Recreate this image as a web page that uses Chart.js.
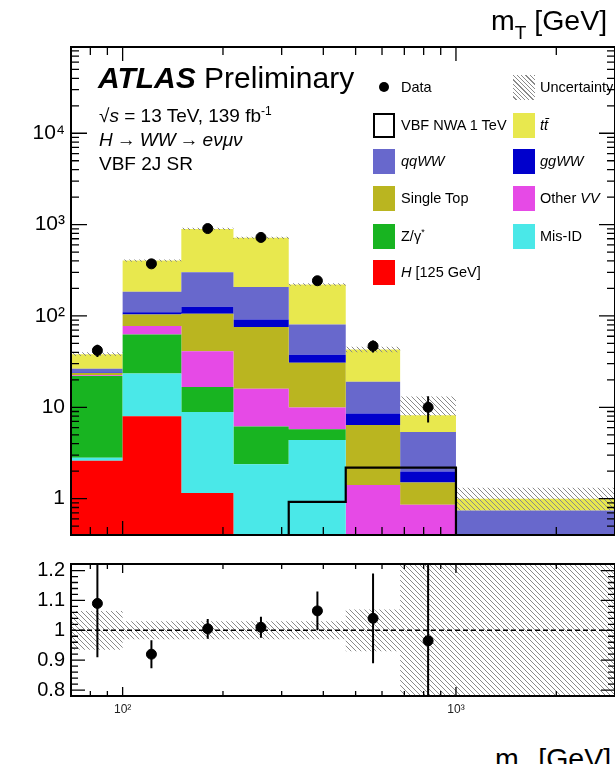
<!DOCTYPE html>
<html><head><meta charset="utf-8">
<script src="https://cdn.jsdelivr.net/npm/chart.js@4.4.1/dist/chart.umd.min.js"></script>
<style>
html,body{margin:0;padding:0;overflow:hidden;background:#fff;width:615px;height:764px;}
body{position:relative;font-family:"Liberation Sans",Arial,Helvetica,sans-serif;color:#000;}
canvas{position:absolute;left:0;}
.t{position:absolute;white-space:nowrap;line-height:1;}
.sw{position:absolute;width:22px;height:25px;}
.lt{position:absolute;font-size:14.5px;white-space:nowrap;line-height:1;}
sub,sup{line-height:0;}
.ar{margin:0 4px;}
</style></head><body>
<canvas id="c1" width="621" height="560" style="top:0"></canvas>
<canvas id="c2" width="621" height="200" style="top:540px"></canvas>

<div class="t" style="left:491px;top:6px;font-size:28.5px">m<sub style="font-size:19px;position:relative;top:2px">T</sub> [GeV]</div>
<div class="t" style="left:495px;top:744px;font-size:28.5px">m<sub style="font-size:19px;position:relative;top:2px">T</sub> [GeV]</div>

<div class="t" style="left:98px;top:63px;font-size:30px"><b><i>ATLAS</i></b> Preliminary</div>
<div class="t" style="left:99px;top:106px;font-size:19px">√<i>s</i> = 13 TeV, 139 fb<sup style="font-size:12px">-1</sup></div>
<div class="t" style="left:99px;top:130px;font-size:19px"><i>H</i><span class="ar">→</span><i>WW</i><span class="ar">→</span><i>eνμν</i></div>
<div class="t" style="left:99px;top:154px;font-size:19px">VBF 2J SR</div>

<div id="legend"></div>

<script>
// ---------------- data ----------------
const binEdges   = [70, 100, 150, 215, 315, 467, 680, 1000, 3000];   // mT bin edges [GeV]
const dataX      = [84, 122, 180, 260, 384, 564, 825];                // data points (bin centres) [GeV]
const higgs125   = [2.6, 8.0, 1.15, 0, 0, 0, 0, 0];
const misID      = [0.2, 15.4, 7.75, 2.38, 4.39, 0, 0, 0];
const zGamma     = [19.2, 39.4, 7.8, 3.77, 1.36, 0, 0, 0];
const otherVV    = [0.5, 14.6, 24.5, 9.85, 4.18, 1.41, 0.855, 0];
const singleTop  = [1.2, 26.6, 64.8, 59.5, 20.9, 5.0, 0.645, 0];
const ggWW       = [0.3, 6.0, 20, 16.1, 6.9, 2.12, 0.48, 0];
const qqWW       = [2.5, 74, 175, 116.4, 43, 10.57, 3.39, 0.74];
const ttbar      = [11.5, 220, 597, 508, 140, 23.9, 2.83, 0.26];
const vbfNWA1TeV = [0, 0, 0, 0, 0.92, 2.19, 2.19, 0];
const dataVals   = [42, 372, 905, 724, 243, 46.8, 10.0];
const dataErr    = [6.5, 19, 30, 27, 16, 7, 3.2];
const uncLow     = [36.5, 392, 875, 696, 214, 40, 8.1, 0.74];
const uncHigh    = [40, 416, 925, 738, 228, 46, 13.1, 1.32];
const ratioVals  = [1.09, 0.92, 1.005, 1.01, 1.065, 1.04, 0.965];
const ratioErr   = [0.18, 0.047, 0.033, 0.035, 0.065, 0.15, 0.6];
const ratioUncLo = [0.935, 0.97, 0.97, 0.97, 0.97, 0.93, 0.5, 0.5];
const ratioUncHi = [1.065, 1.03, 1.03, 1.03, 1.03, 1.07, 1.5, 1.5];
const yMainTicks = [1, 10, 100, 1000, 10000];
const yMainLabels = ['1', '10', '10²', '10³', '10⁴'];
const yRatioTicks = [0.8, 0.9, 1, 1.1, 1.2];
const yRatioLabels = ['0.8', '0.9', '1', '1.1', '1.2'];
const xRatioTicks = [100, 1000];
const xRatioLabels = ['10²', '10³'];

const components = [
  {label:'H [125 GeV]', vals:higgs125,  color:'#ff0000'},
  {label:'Mis-ID',      vals:misID,     color:'#4ae8e8'},
  {label:'Z/γ*',        vals:zGamma,    color:'#18b421'},
  {label:'Other VV',    vals:otherVV,   color:'#e64ae6'},
  {label:'Single Top',  vals:singleTop, color:'#bab520'},
  {label:'ggWW',        vals:ggWW,      color:'#0000cc'},
  {label:'qqWW',        vals:qqWW,      color:'#6868cc'},
  {label:'tt̄',          vals:ttbar,     color:'#e8e84e'}
];

// --------------- helpers ---------------
const FONT = '"Liberation Sans", Arial, Helvetica, sans-serif';
const LOG_FLOOR = 0.2; // below the axis minimum: an empty bin is drawn under the frame (log axes cannot show 0)
function stepPts(vals, floor){
  const f = v => (floor !== undefined ? Math.max(v, floor) : v);
  const p = vals.map((v,i)=>({x:binEdges[i], y:f(v)}));
  p.push({x:binEdges[binEdges.length-1], y:f(vals[vals.length-1])});
  return p;
}
function hatch(ctx){
  const c=document.createElement('canvas'); c.width=c.height=5;
  const g=c.getContext('2d'); g.strokeStyle='#8a8a8a'; g.lineWidth=1;
  for(const o of [-5,0,5]){ g.beginPath(); g.moveTo(o,0); g.lineTo(o+5,5); g.stroke(); }
  return ctx.createPattern(c,'repeat');
}
function frameTicks(o){
  return {id:'frame'+o.name, afterDatasetsDraw(chart){
    const {ctx, chartArea:a, scales:{x,y}} = chart;
    ctx.save(); ctx.strokeStyle='#000'; ctx.lineWidth=1.3; ctx.beginPath();
    const xt=(vals,len)=>{for(const v of vals){const p=x.getPixelForValue(v); if(p<=a.left+1||p>=a.right-1)continue;
      ctx.moveTo(p,a.bottom); ctx.lineTo(p,a.bottom-len); ctx.moveTo(p,a.top); ctx.lineTo(p,a.top+len);} };
    const yt=(vals,len)=>{for(const v of vals){const p=y.getPixelForValue(v); if(p<=a.top+1||p>=a.bottom-1)continue;
      ctx.moveTo(a.left,p); ctx.lineTo(a.left+len,p); ctx.moveTo(a.right,p); ctx.lineTo(a.right-len,p);} };
    xt(o.xMajor,o.xMajLen); xt(o.xMinor,o.xMinLen); yt(o.yMajor,o.yMajLen); yt(o.yMinor,o.yMinLen);
    ctx.stroke();
    if(o.dashed){ ctx.beginPath(); ctx.setLineDash([5,3]); ctx.lineWidth=1.6;
      const p=y.getPixelForValue(o.dashed); ctx.moveTo(a.left,p); ctx.lineTo(a.right,p); ctx.stroke(); ctx.setLineDash([]); }
    ctx.lineWidth=2; ctx.strokeRect(a.left,a.top,a.right-a.left,a.bottom-a.top);
    ctx.restore();
  }};
}
function errBars(name, xs, ys, errs){
  return {id:'err'+name, afterDatasetsDraw(chart){
    const {ctx, chartArea:a, scales:{x,y}} = chart;
    ctx.save(); ctx.beginPath(); ctx.rect(a.left,a.top,a.right-a.left,a.bottom-a.top); ctx.clip();
    ctx.strokeStyle='#000'; ctx.lineWidth=2; ctx.beginPath();
    xs.forEach((xv,i)=>{const px=x.getPixelForValue(xv);
      ctx.moveTo(px,y.getPixelForValue(ys[i]+errs[i])); ctx.lineTo(px,y.getPixelForValue(Math.max(ys[i]-errs[i],1e-6)));});
    ctx.stroke(); ctx.restore();
  }};
}

// minor tick positions
const xMinor=[80,90,200,300,400,500,600,700,800,900,2000];
const yMinorMain=[]; for(let d=0.1; d<1e5; d*=10){ for(let k=2;k<=9;k++) yMinorMain.push(+(k*d).toPrecision(3)); }
const yMinorRatio=[]; for(let k=40;k<=61;k++){ const v=k*0.02; if(Math.abs(v*10-Math.round(v*10))>1e-6) yMinorRatio.push(v); }

// --------------- main panel ---------------
const ctx1=document.getElementById('c1').getContext('2d');
const pat1=hatch(ctx1);
let cum=new Array(8).fill(0);
const mainSets=components.map((c,i)=>{
  cum=cum.map((s,j)=>s+c.vals[j]);
  return {type:'line', label:c.label, data:stepPts(cum.slice(), LOG_FLOOR), stepped:true, borderWidth:0, pointRadius:0,
    backgroundColor:c.color, borderColor:c.color, fill: i===0?'start':'-1', order:10};
});
const nS=mainSets.length;
mainSets.push({type:'line', label:'uncLo', data:stepPts(uncLow, LOG_FLOOR), stepped:true, borderWidth:0, pointRadius:0, fill:false, order:3, borderColor:'rgba(0,0,0,0)'});
mainSets.push({type:'line', label:'Uncertainty', data:stepPts(uncHigh, LOG_FLOOR), stepped:true, borderWidth:0, pointRadius:0, fill:{target:nS}, backgroundColor:pat1, order:2, borderColor:'rgba(0,0,0,0)'});
mainSets.push({type:'line', label:'VBF NWA 1 TeV', data:stepPts(vbfNWA1TeV, LOG_FLOOR), stepped:true, borderWidth:2.2, borderColor:'#000', pointRadius:0, fill:false, order:1});
mainSets.push({type:'line', label:'Data', data:dataX.map((x,i)=>({x,y:dataVals[i]})), showLine:false, pointRadius:5, pointBackgroundColor:'#000', pointBorderColor:'#000', order:0});

new Chart(ctx1,{
  type:'line',
  data:{datasets:mainSets},
  options:{
    responsive:false, animation:false, events:[],
    layout:{padding:{top:47,left:0,right:1,bottom:25}},
    plugins:{legend:{display:false}, tooltip:{enabled:false}},
    scales:{
      x:{type:'logarithmic', min:binEdges[0], max:binEdges[binEdges.length-1], display:false},
      y:{type:'logarithmic', min:0.4, max:88000,
         afterFit:s=>{s.width=71;},
         afterBuildTicks:s=>{s.ticks=yMainTicks.map(v=>({value:v}));},
         grid:{display:false, drawTicks:false, tickLength:0}, border:{display:false},
         ticks:{padding:6, color:'#000', font:{family:FONT,size:21}, autoSkip:false,
           callback:(v)=>{const i=yMainTicks.indexOf(v); return i>=0?yMainLabels[i]:'';}}}
    }
  },
  plugins:[frameTicks({name:'m', xMajor:[100,1000], xMinor, xMajLen:14, xMinLen:8, yMajor:yMainTicks, yMinor:yMinorMain, yMajLen:16, yMinLen:8}),
           errBars('m', dataX, dataVals, dataErr)]
});

// --------------- ratio panel ---------------
const ctx2=document.getElementById('c2').getContext('2d');
const pat2=hatch(ctx2);
new Chart(ctx2,{
  type:'line',
  data:{datasets:[
    {label:'lo', data:stepPts(ratioUncLo), stepped:true, borderWidth:0, pointRadius:0, fill:false, borderColor:'rgba(0,0,0,0)', order:3},
    {label:'band', data:stepPts(ratioUncHi), stepped:true, borderWidth:0, pointRadius:0, fill:{target:0}, backgroundColor:pat2, borderColor:'rgba(0,0,0,0)', order:2},
    {label:'Data/Bkg', data:dataX.map((x,i)=>({x,y:ratioVals[i]})), showLine:false, pointRadius:5, pointBackgroundColor:'#000', pointBorderColor:'#000', order:0}
  ]},
  options:{
    responsive:false, animation:false, events:[],
    layout:{padding:{top:24,left:0,right:1,bottom:0}},
    plugins:{legend:{display:false}, tooltip:{enabled:false}},
    scales:{
      x:{type:'logarithmic', min:binEdges[0], max:binEdges[binEdges.length-1],
         afterFit:s=>{s.height=44;},
         afterBuildTicks:s=>{s.ticks=xRatioTicks.map(v=>({value:v}));},
         grid:{display:false, drawTicks:false, tickLength:0}, border:{display:false},
         ticks:{padding:6, color:'#222', maxRotation:0, autoSkip:false, font:{family:FONT,size:12},
           callback:(v)=>{const i=xRatioTicks.indexOf(v); return i>=0?xRatioLabels[i]:'';}}},
      y:{type:'linear', min:0.78, max:1.222,
         afterFit:s=>{s.width=71;},
         afterBuildTicks:s=>{s.ticks=yRatioTicks.map(v=>({value:v}));},
         grid:{display:false, drawTicks:false, tickLength:0}, border:{display:false},
         ticks:{padding:6, color:'#000', autoSkip:false, font:{family:FONT,size:20},
           callback:(v)=>{const i=yRatioTicks.findIndex(t=>Math.abs(t-v)<1e-9); return i>=0?yRatioLabels[i]:'';}}}
    }
  },
  plugins:[frameTicks({name:'r', xMajor:[100,1000], xMinor, xMajLen:9, xMinLen:5, yMajor:yRatioTicks, yMinor:yMinorRatio, yMajLen:14, yMinLen:7, dashed:1}),
           errBars('r', dataX, ratioVals, ratioErr)]
});

// --------------- legend (HTML) ---------------
const legendRows=[87,125,161,198,236,272];
const leg=[
  {col:0,row:0,kind:'dot',html:'Data'},
  {col:1,row:0,kind:'hatch',html:'Uncertainty'},
  {col:0,row:1,kind:'box',html:'VBF NWA 1 TeV'},
  {col:1,row:1,color:'#e8e84e',html:'<i>tt̄</i>'},
  {col:0,row:2,color:'#6868cc',html:'<i>qqWW</i>'},
  {col:1,row:2,color:'#0000cc',html:'<i>ggWW</i>'},
  {col:0,row:3,color:'#bab520',html:'Single Top'},
  {col:1,row:3,color:'#e64ae6',html:'Other <i>VV</i>'},
  {col:0,row:4,color:'#18b421',html:'Z/γ<sup style="font-size:9px">*</sup>'},
  {col:1,row:4,color:'#4ae8e8',html:'Mis-ID'},
  {col:0,row:5,color:'#ff0000',html:'<i>H</i> [125 GeV]'}
];
const swX=[373,513], txX=[401,540];
let h='';
for(const e of leg){
  const cy=legendRows[e.row], sx=swX[e.col];
  if(e.kind==='dot') h+=`<div style="position:absolute;left:${sx+6}px;top:${cy-5}px;width:10px;height:10px;border-radius:50%;background:#000"></div>`;
  else if(e.kind==='hatch') h+=`<div class="sw" style="left:${sx}px;top:${cy-12}px;background:repeating-linear-gradient(45deg,#fff 0 2px,#8a8a8a 2px 3px)"></div>`;
  else if(e.kind==='box') h+=`<div class="sw" style="left:${sx}px;top:${cy-12}px;box-sizing:border-box;border:2px solid #000;background:#fff"></div>`;
  else h+=`<div class="sw" style="left:${sx}px;top:${cy-12}px;background:${e.color}"></div>`;
  h+=`<div class="lt" style="left:${txX[e.col]}px;top:${cy-7}px">${e.html}</div>`;
}
document.getElementById('legend').innerHTML=h;
</script>
</body></html>
